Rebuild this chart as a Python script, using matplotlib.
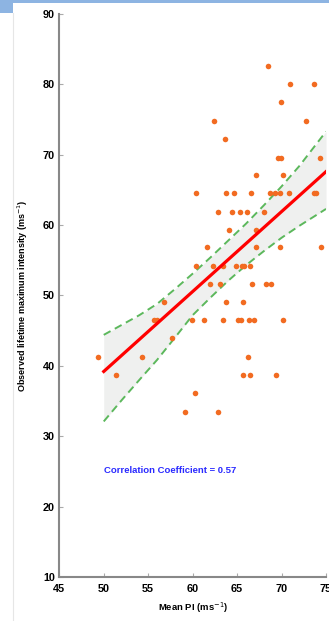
import matplotlib
matplotlib.use("Agg")
import matplotlib.pyplot as plt
from matplotlib.patches import Rectangle
from matplotlib.lines import Line2D

# data
mean_pi = [68.5, 71.0, 73.7, 69.9, 62.35, 72.7, 63.6, 69.6, 69.9, 74.3, 67.1, 70.2,
           60.4, 63.8, 64.6, 66.6, 68.7, 69.3, 69.8, 70.8, 73.6, 73.9,
           62.8, 64.4, 65.3, 66.1, 68.0, 64.1, 67.1,
           61.6, 67.1, 69.8, 74.4,
           60.4, 62.3, 63.4, 64.9, 65.5, 65.8, 66.4,
           61.9, 63.1, 66.7, 68.2, 68.8,
           56.8, 63.7, 65.65,
           55.65, 56.0, 59.9, 61.25, 63.4, 65.1, 65.4, 66.3, 66.9, 70.2,
           57.7, 49.4, 54.3, 66.2,
           51.4, 65.65, 66.4, 69.4,
           60.3, 59.1, 62.9]
max_int = [82.6, 80.0, 80.0, 77.5, 74.8, 74.8, 72.2, 69.6, 69.6, 69.6, 67.1, 67.1,
           64.5, 64.5, 64.5, 64.5, 64.5, 64.5, 64.5, 64.5, 64.5, 64.5,
           61.9, 61.9, 61.9, 61.9, 61.9, 59.3, 59.3,
           56.9, 56.9, 56.9, 56.9,
           54.25, 54.25, 54.25, 54.25, 54.25, 54.25, 54.25,
           51.6, 51.6, 51.6, 51.6, 51.6,
           49.05, 49.05, 49.05,
           46.5, 46.5, 46.5, 46.5, 46.5, 46.5, 46.5, 46.5, 46.5, 46.5,
           43.9, 41.3, 41.3, 41.3,
           38.7, 38.7, 38.7, 38.7,
           36.1, 33.5, 33.5]

fit_x = [50, 75]
fit_y = [39.2, 67.6]

band_x = [50, 52, 54, 56, 58, 60, 62, 64, 66, 68, 70, 72, 75]
band_up = [44.4, 45.8, 47.2, 48.8, 50.9, 53.1, 55.4, 57.8, 60.2, 62.8, 65.5, 68.4, 73.3]
band_lo = [32.1, 35.1, 38.0, 40.85, 44.0, 47.2, 49.7, 52.1, 54.3, 56.3, 58.2, 59.9, 62.3]

xticks = [45, 50, 55, 60, 65, 70, 75]
yticks = [10, 20, 30, 40, 50, 60, 70, 80, 90]

plt.rcParams['font.family'] = ['Liberation Sans', 'DejaVu Sans']

fig = plt.figure(figsize=(3.29, 6.21), dpi=100)
ax = fig.add_axes([0.1802, 0.0709, 0.8108, 0.9066])

ax.fill_between(band_x, band_lo, band_up, color="#eff0ef", lw=0, zorder=1)
ax.plot(band_x, band_up, color="#5cb85c", lw=1.4, dashes=(4, 2.5), zorder=2)
ax.plot(band_x, band_lo, color="#5cb85c", lw=1.4, dashes=(4, 2.5), zorder=2)
ax.scatter(mean_pi, max_int, s=16, color="#f26b21", lw=0, zorder=3)
ax.plot(fit_x, fit_y, color="#ff0000", lw=2.3, zorder=4)

ax.text(50.05, 25.2, "Correlation Coefficient = 0.57", color="#2a2aff",
        fontsize=6.8, fontweight="bold", va="center", ha="left")

ax.set_xlim(45, 75)
ax.set_ylim(10, 90)
ax.set_xticks(xticks)
ax.set_yticks(yticks)
for s in ["top", "right"]:
    ax.spines[s].set_visible(False)
for s in ["left", "bottom"]:
    ax.spines[s].set_color("#888888")
    ax.spines[s].set_linewidth(1.5)
ax.tick_params(direction="in", length=3, color="#aaaaaa", labelsize=7.8)
ax.tick_params(axis="x", pad=5)
ax.tick_params(axis="y", pad=3)
for lab in ax.get_xticklabels() + ax.get_yticklabels():
    lab.set_fontweight("bold")

ax.set_xlabel("Mean PI (ms$^{-1}$)", fontsize=6.8, fontweight="bold", labelpad=5)
ax.set_ylabel("Observed lifetime maximum intensity (ms$^{-1}$)", fontsize=6.5,
              fontweight="bold", labelpad=9)

# slide decoration
fig.add_artist(Rectangle((12 / 329, 1 - 3 / 621), 1, 3 / 621, transform=fig.transFigure,
                         color="#8db4e2", lw=0))
fig.add_artist(Rectangle((0, 1 - 13 / 621), 13 / 329, 13 / 621, transform=fig.transFigure,
                         color="#8db4e2", lw=0))
fig.add_artist(Line2D([13 / 329, 13 / 329], [0, 1 - 13 / 621], transform=fig.transFigure,
                      color="#e6e6e6", lw=0.8))

fig.savefig("out.png", dpi=100)
